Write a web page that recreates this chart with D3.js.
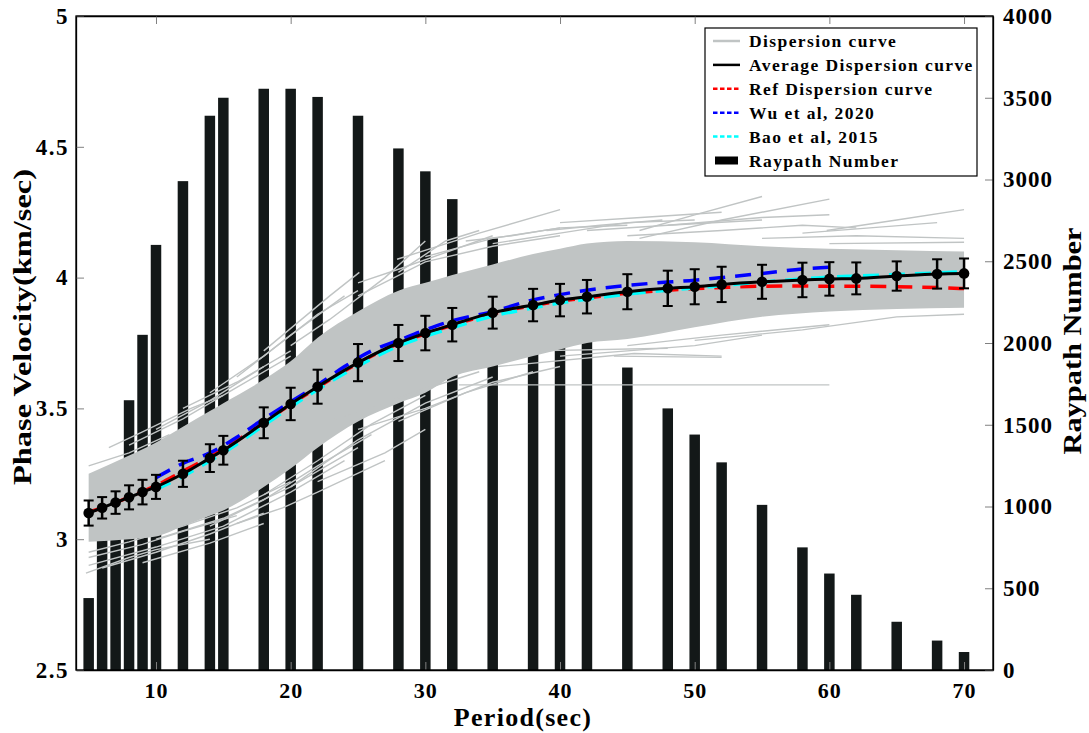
<!DOCTYPE html>
<html>
<head>
<meta charset="utf-8">
<script src="https://cdn.jsdelivr.net/npm/d3@7"></script>
<style>
  html, body { margin: 0; padding: 0; background: #fff; }
  svg { display: block; }
  text { font-family: "Liberation Serif", "Times New Roman", serif; font-weight: bold; fill: #000; }
</style>
</head>
<body>
<svg id="chart" width="1089" height="733"></svg>
<script>
// ---------------- DATA ----------------
const periods = [5,6,7,8,9,10,12,14,15,18,20,22,25,28,30,32,35,38,40,42,45,48,50,52,55,58,60,62,65,68,70];
const raypathCounts = [440,1180,1230,1650,2050,2600,2990,3390,3500,3555,3555,3505,3390,3190,3050,2880,2640,2250,2150,2050,1850,1600,1440,1270,1010,750,590,460,295,180,110];
const avgVelocity = [3.10,3.12,3.14,3.16,3.18,3.20,3.25,3.31,3.34,3.445,3.517,3.583,3.675,3.75,3.788,3.82,3.866,3.895,3.914,3.927,3.946,3.959,3.965,3.974,3.984,3.991,3.995,3.997,4.006,4.014,4.016];
const avgStd = [0.048,0.041,0.043,0.046,0.047,0.046,0.05,0.053,0.055,0.059,0.062,0.065,0.071,0.069,0.066,0.064,0.061,0.062,0.062,0.064,0.067,0.0675,0.067,0.0675,0.065,0.066,0.064,0.061,0.056,0.056,0.057];
const refVelocity = [3.105,3.12,3.14,3.16,3.182,3.205,3.26,3.315,3.345,3.445,3.515,3.58,3.672,3.748,3.785,3.818,3.862,3.893,3.91,3.922,3.94,3.952,3.958,3.962,3.967,3.968,3.967,3.967,3.965,3.962,3.958];
const wuPeriods = [10,12,14,16,18,20,22,24,26,28,30,32,35,38,40,42,45,48,50,52,55,58,60];
const wuVelocity = [3.235,3.29,3.33,3.39,3.46,3.525,3.59,3.66,3.72,3.76,3.80,3.835,3.87,3.915,3.935,3.952,3.97,3.983,3.99,4.00,4.016,4.033,4.04];
const baoPeriods = [10,12,14,15,18,20,22,25,28,30,32,35,38,40,42,45,48,50,52,55,58,60,62,65,68,70];
const baoVelocity = [3.19,3.24,3.30,3.33,3.435,3.505,3.572,3.662,3.738,3.776,3.808,3.853,3.884,3.903,3.917,3.937,3.952,3.96,3.97,3.983,3.995,4.002,4.006,4.012,4.018,4.023];

// dense envelope of the individual dispersion curves
const bandPeriods = [5,8,10,12,14,15,18,20,22,25,28,30,32,35,38,40,42,45,50,55,60,65,70];
const bandUpper = [3.25,3.32,3.37,3.43,3.49,3.52,3.61,3.68,3.77,3.87,3.95,3.98,4.01,4.05,4.09,4.11,4.13,4.14,4.135,4.12,4.11,4.105,4.10];
const bandLower = [2.99,3.00,3.01,3.05,3.09,3.11,3.20,3.27,3.35,3.45,3.52,3.56,3.62,3.66,3.70,3.725,3.75,3.765,3.81,3.85,3.87,3.88,3.885];
// individual dispersion curves lying outside the dense band: [period, velocity]
const sparseCurves = [
  [[4.8,2.87],[8,2.93],[10,2.96],[14,3.0]],
  [[5,2.90],[10,2.97],[15,3.05],[20,3.18],[24,3.30]],
  [[5,2.93],[9,2.98],[12,3.03],[16,3.09]],
  [[5,2.95],[8,2.99],[12,3.05],[16,3.12],[20,3.22]],
  [[6,2.89],[10,2.95],[14,3.02],[18,3.10]],
  [[9,2.91],[14,2.985],[18,3.06]],
  [[10,3.0],[15,3.08],[20,3.2],[25,3.35]],
  [[14,3.05],[18,3.15],[22,3.28],[26,3.40]],
  [[16,3.06],[19.4,3.12],[22,3.18],[27,3.30]],
  [[18,3.17],[22,3.3],[26,3.44],[30,3.55]],
  [[20,3.2],[25,3.38],[30,3.52],[35,3.62]],
  [[22,3.22],[27,3.33],[30,3.42]],
  [[23,3.455],[30.3,3.58],[34,3.64]],
  [[25,3.42],[30,3.5],[35,3.6],[40,3.66]],
  [[28,3.45],[33,3.56],[38,3.64]],
  [[32.5,3.59],[47,3.59],[60,3.59]],
  [[35.4,3.66],[45.5,3.71],[52,3.70]],
  [[44,3.70],[52,3.695]],
  [[38,3.72],[48,3.73]],
  [[40,3.70],[45,3.72],[50,3.74],[55,3.78]],
  [[45,3.74],[52,3.78],[60,3.82]],
  [[50,3.76],[58,3.80],[65,3.85],[70,3.86]],
  [[5,3.28],[8,3.33],[11,3.40]],
  [[6.5,3.35],[9,3.41],[12.6,3.50],[15,3.55]],
  [[8,3.36],[12,3.46],[16,3.58],[20,3.7]],
  [[10,3.42],[14,3.53],[18,3.66]],
  [[12,3.50],[16,3.60],[20,3.72]],
  [[14,3.56],[18,3.7],[22,3.86],[25,3.95]],
  [[16,3.62],[20,3.78],[24,3.93]],
  [[18,3.72],[22.9,3.93],[25.1,4.02]],
  [[20,3.74],[22.9,3.84],[27,4.0],[30,4.14]],
  [[25,3.93],[30,4.06],[35,4.12],[40,4.16]],
  [[25,3.98],[27.9,4.03],[35,4.16]],
  [[27.9,4.07],[34,4.17],[40,4.26]],
  [[28,4.02],[31.5,4.14],[34,4.18]],
  [[30,4.08],[35,4.15],[40,4.19],[45,4.2]],
  [[33,4.14],[36.4,4.16],[40,4.19]],
  [[35,4.13],[40,4.17],[45,4.21],[50,4.22]],
  [[39,4.18],[43,4.20],[47.6,4.22]],
  [[40,4.21],[46,4.23],[52,4.25]],
  [[42,4.18],[48,4.2],[55,4.22]],
  [[45,4.16],[52,4.18],[58,4.2],[62,4.19]],
  [[45.9,4.18],[50,4.24],[55,4.31]],
  [[45.9,4.15],[52,4.22],[60,4.30]],
  [[48,4.2],[55,4.23],[60,4.24]],
  [[55,4.15],[62,4.16],[70,4.15]],
  [[58,4.17],[63,4.19],[68,4.21]],
  [[59.8,4.18],[65,4.22],[70,4.26]],
  [[60,4.13],[70,4.135]]
];

const xTicks = [10,20,30,40,50,60,70];
const yTicks = [2.5,3,3.5,4,4.5,5];
const rTicks = [0,500,1000,1500,2000,2500,3000,3500,4000];
const legendLabels = ["Dispersion curve","Average Dispersion curve","Ref Dispersion curve","Wu et al, 2020","Bao et al, 2015","Raypath Number"];

// ---------------- CHART ----------------
const L = 76, R = 993, T = 16, B = 670;
const GREY = "#c0c4c4", BAR = "#131818";
const svg = d3.select("#chart");
const x = d3.scaleLinear().domain([4.06, 72.15]).range([L, R]);
const yL = d3.scaleLinear().domain([2.5, 5]).range([B, T]);
const yR = d3.scaleLinear().domain([0, 4000]).range([B, T]);

svg.append("clipPath").attr("id","plotclip").append("rect")
  .attr("x", L).attr("y", T).attr("width", R - L).attr("height", B - T);
const plot = svg.append("g").attr("clip-path","url(#plotclip)");

// bars
const bw = 10.5;
plot.append("g").selectAll("rect").data(periods).join("rect")
  .attr("x", (p) => x(p) - bw/2)
  .attr("y", (p, i) => yR(raypathCounts[i]))
  .attr("width", bw)
  .attr("height", (p, i) => yR(0) - yR(raypathCounts[i]))
  .attr("fill", BAR);

// dispersion curves band
const bandData = bandPeriods.map((p, i) => ({p, u: bandUpper[i], l: bandLower[i]}));
plot.append("path").datum(bandData)
  .attr("d", d3.area().x(d => x(d.p)).y0(d => yL(d.l)).y1(d => yL(d.u)).curve(d3.curveMonotoneX))
  .attr("fill", GREY);
const lineXY = d3.line().x(d => x(d[0])).y(d => yL(d[1]));
plot.append("g").selectAll("path").data(sparseCurves).join("path")
  .attr("d", d => lineXY(d))
  .attr("fill","none").attr("stroke", GREY).attr("stroke-width", 1.4);

// reference curves
const pl = d3.line().x(d => x(d.p)).y(d => yL(d.v)).curve(d3.curveMonotoneX);
const refData = periods.map((p, i) => ({p, v: refVelocity[i]}));
const wuData = wuPeriods.map((p, i) => ({p, v: wuVelocity[i]}));
const baoData = baoPeriods.map((p, i) => ({p, v: baoVelocity[i]}));
plot.append("path").datum(refData).attr("d", pl)
  .attr("fill","none").attr("stroke","#ff0000").attr("stroke-width",3.5).attr("stroke-dasharray","16,10");
plot.append("path").datum(wuData).attr("d", pl)
  .attr("fill","none").attr("stroke","#0000ff").attr("stroke-width",3.5).attr("stroke-dasharray","16,10");
plot.append("path").datum(baoData).attr("d", pl)
  .attr("fill","none").attr("stroke","#00ffff").attr("stroke-width",3.5).attr("stroke-dasharray","16,10");

// average curve
const avgData = periods.map((p, i) => ({p, v: avgVelocity[i], s: avgStd[i]}));
plot.append("path").datum(avgData).attr("d", pl)
  .attr("fill","none").attr("stroke","#000").attr("stroke-width",3);
const eb = plot.append("g").selectAll("g").data(avgData).join("g");
eb.append("line")
  .attr("x1", d => x(d.p)).attr("x2", d => x(d.p))
  .attr("y1", d => yL(d.v - d.s)).attr("y2", d => yL(d.v + d.s))
  .attr("stroke","#000").attr("stroke-width",2.5);
eb.append("line")
  .attr("x1", d => x(d.p) - 5).attr("x2", d => x(d.p) + 5)
  .attr("y1", d => yL(d.v + d.s)).attr("y2", d => yL(d.v + d.s))
  .attr("stroke","#000").attr("stroke-width",2);
eb.append("line")
  .attr("x1", d => x(d.p) - 5).attr("x2", d => x(d.p) + 5)
  .attr("y1", d => yL(d.v - d.s)).attr("y2", d => yL(d.v - d.s))
  .attr("stroke","#000").attr("stroke-width",2);
eb.append("circle")
  .attr("cx", d => x(d.p)).attr("cy", d => yL(d.v)).attr("r", 5.3).attr("fill","#000");

// axes
const styleAxis = (g) => {
  g.select(".domain").attr("stroke","#000").attr("stroke-width",1.3);
  g.selectAll(".tick line").attr("stroke","#808080").attr("stroke-width",1);
};
const fontFam = '"Liberation Serif", "Times New Roman", serif';
const gx = svg.append("g").attr("transform", `translate(0,${B})`)
  .call(d3.axisBottom(x).tickValues(xTicks).tickSizeInner(-8).tickSizeOuter(0).tickPadding(12).tickFormat(d => String(d)));
styleAxis(gx);
gx.selectAll("text").attr("font-size", 22).attr("letter-spacing", "1px")
  .attr("font-family", fontFam).attr("font-weight","bold");
const gt = svg.append("g").attr("transform", `translate(0,${T})`)
  .call(d3.axisTop(x).tickValues(xTicks).tickSizeInner(-8).tickSizeOuter(0).tickFormat(""));
styleAxis(gt);
const gl = svg.append("g").attr("transform", `translate(${L},0)`)
  .call(d3.axisLeft(yL).tickValues(yTicks).tickSizeInner(-8).tickSizeOuter(0).tickPadding(7).tickFormat(d => String(d)));
styleAxis(gl);
gl.selectAll("text").attr("font-size", 23).attr("letter-spacing", "1.5px")
  .attr("font-family", fontFam).attr("font-weight","bold");
const gr = svg.append("g").attr("transform", `translate(${R},0)`)
  .call(d3.axisRight(yR).tickValues(rTicks).tickSizeInner(-8).tickSizeOuter(0).tickPadding(10).tickFormat(d => String(d)));
styleAxis(gr);
gr.selectAll("text").attr("font-size", 23).attr("letter-spacing", "1px")
  .attr("font-family", fontFam).attr("font-weight","bold");

// axis titles
svg.append("text").attr("x", 523).attr("y", 726).attr("text-anchor","middle")
  .attr("font-size", 26).attr("letter-spacing","1.3px").text("Period(sec)");
svg.append("text").attr("transform", "translate(31,327) rotate(-90)").attr("text-anchor","middle")
  .attr("font-size", 25).attr("textLength", 316).attr("lengthAdjust","spacingAndGlyphs")
  .text("Phase Velocity(km/sec)");
svg.append("text").attr("transform", "translate(1081,341) rotate(-90)").attr("text-anchor","middle")
  .attr("font-size", 25).attr("textLength", 227).attr("lengthAdjust","spacingAndGlyphs")
  .text("Raypath Number");

// legend
const lg = svg.append("g");
lg.append("rect").attr("x", 705).attr("y", 28).attr("width", 272).attr("height", 148)
  .attr("fill","#fff").attr("stroke","#000").attr("stroke-width",1.2);
const styles = [
  {stroke: GREY, dash: null},
  {stroke: "#000", dash: null},
  {stroke: "#ff0000", dash: "4.5,2.5"},
  {stroke: "#0000ff", dash: "4.5,2.5"},
  {stroke: "#00ffff", dash: "4.5,2.5"},
  {bar: true}
];
legendLabels.forEach((lab, i) => {
  const cy = 41 + i * 23.9;
  const s = styles[i];
  if (s.bar) {
    lg.append("rect").attr("x", 715).attr("y", cy - 4).attr("width", 23).attr("height", 8).attr("fill", "#000");
  } else {
    const ln = lg.append("line").attr("x1", 713).attr("x2", 740).attr("y1", cy).attr("y2", cy)
      .attr("stroke", s.stroke).attr("stroke-width", 2.5);
    if (s.dash) ln.attr("stroke-dasharray", s.dash);
  }
  lg.append("text").attr("x", 749).attr("y", cy + 6).attr("font-size", 17.5)
    .attr("letter-spacing", "1.4px").text(lab);
});

// frame on top
svg.append("rect").attr("x", L).attr("y", T).attr("width", R - L).attr("height", B - T)
  .attr("fill","none").attr("stroke","#000").attr("stroke-width",1.3);
</script>
</body>
</html>
